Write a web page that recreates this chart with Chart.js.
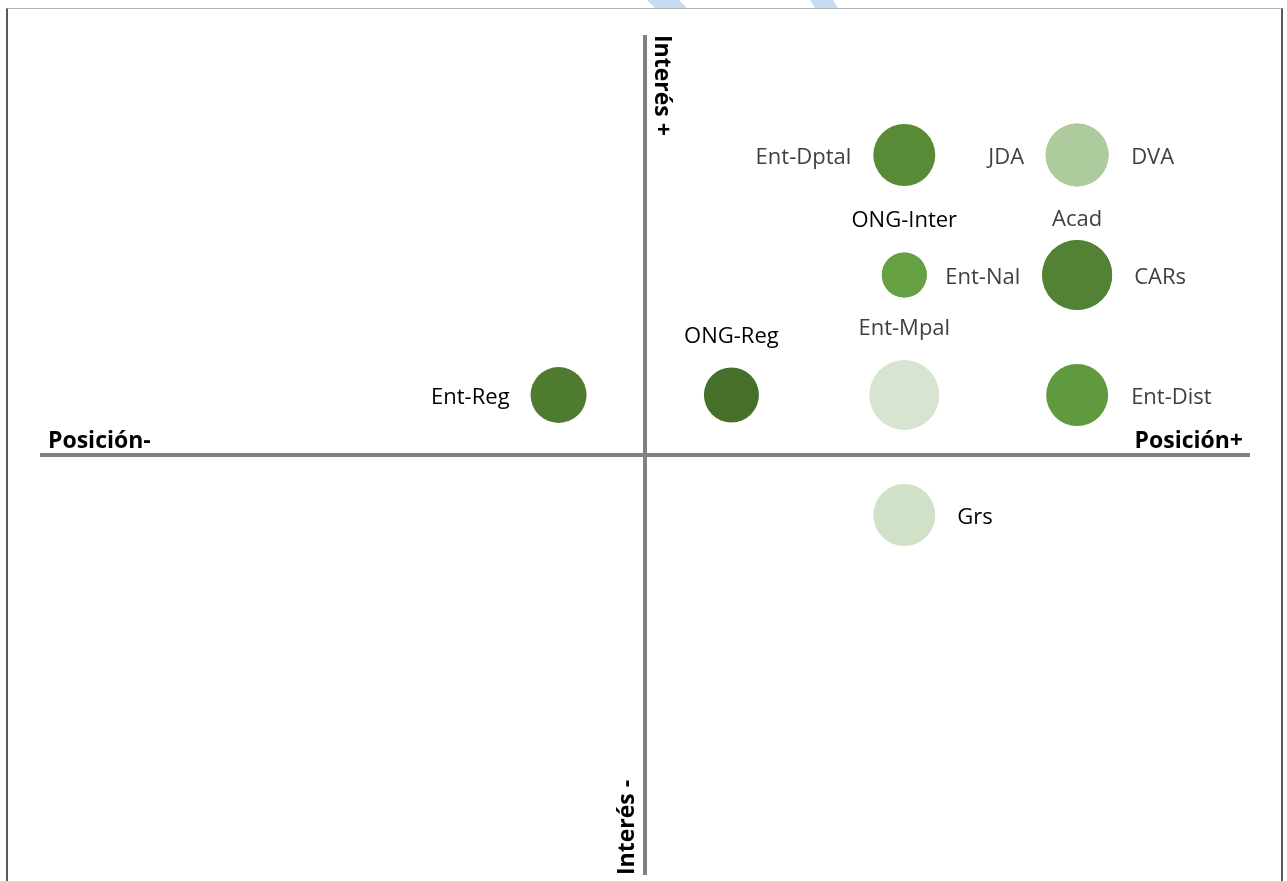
<!DOCTYPE html>
<html>
<head>
<meta charset="utf-8">
<script src="https://cdn.jsdelivr.net/npm/chart.js@4/dist/chart.umd.min.js"></script>
<style>
  html, body { margin: 0; padding: 0; background: #fff; overflow: hidden; width: 1287px; height: 881px; }
  #frame { position: absolute; left: 6px; top: 8px; width: 1273px; height: 900px;
           border-top: 1px solid #b4b4b4; border-left: 2px solid #5a5a5a; border-right: 2px solid #5a5a5a; }
  #deco { position: absolute; left: 0; top: 0; }
  #wrap { position: absolute; left: 0; top: -40px; width: 1287px; height: 961px; }
</style>
</head>
<body>
<svg id="deco" width="1287" height="9">
  <polygon points="647,0 679,0 687,8 655,8" fill="#c6dbef"/>
  <polygon points="810,0 833,0 838,8 815,8" fill="#c6dbef"/>
</svg>
<div id="frame"></div>
<div id="wrap"><canvas id="c" width="1287" height="961"></canvas></div>
<script>
// ---- Data ----
const labels   = ['Ent-Dptal','JDA','DVA','ONG-Inter','Ent-Nal','Acad','CARs','Ent-Mpal','ONG-Reg','Ent-Reg','Ent-Dist','Grs'];
const posicion = [1.5, 2.5, 2.5, 1.5, 1.5, 2.5, 2.5, 1.5, 0.5, -0.5, 2.5, 1.5];
const interes  = [2.5, 2.5, 2.5, 1.5, 1.5, 1.5, 1.5, 0.5, 0.5, 0.5, 0.5, -0.5];
const tamano   = [31, 31.5, 31.5, 22.5, 22.5, 35, 35, 35, 27.5, 28, 31, 31];
const axisMin = -3.5, axisMax = 3.5;
const axisTitles = { xNeg: 'Posición-', xPos: 'Posición+', yPos: 'Interés +', yNeg: 'Interés -' };

// ---- Styling (not data) ----
const bubbleColors = ['#598b37','#aecb9e','#aecb9e','#65a043','#65a043','#538234','#538234','#d7e4d0','#466f2a','#4f7b31','#5f9a3e','#d0e1c8'];
const labelColors  = ['#404040','#404040','#404040','#000000','#404040','#404040','#404040','#404040','#000000','#000000','#404040','#000000'];
// label placement: [side, dx, dy] relative to bubble centre
const labelPlace = [
  ['left', -53, 3], ['left', -53, 3], ['right', 54, 3],
  ['center', 0, -54], ['right', 41, 3], ['center', 0, -55], ['right', 57, 3],
  ['center', 0, -66], ['center', 0, -58], ['left', -49, 3], ['right', 54, 3], ['right', 53, 3]
];
const FONT = "'Open Sans', Lato, sans-serif";

const points = posicion.map((x, i) => ({ x: x, y: interes[i], r: tamano[i] }));

const quadPlugin = {
  id: 'quad',
  beforeDatasetsDraw(chart) {
    const { ctx, chartArea: a, scales: { x, y } } = chart;
    const x0 = x.getPixelForValue(0), y0 = y.getPixelForValue(0);
    ctx.save();
    ctx.strokeStyle = '#808080';
    ctx.lineWidth = 4;
    ctx.beginPath();
    ctx.moveTo(a.left, y0); ctx.lineTo(a.right, y0);
    ctx.moveTo(x0, a.top); ctx.lineTo(x0, a.bottom);
    ctx.stroke();
    // axis titles
    ctx.fillStyle = '#000';
    ctx.font = 'bold 23px ' + FONT;
    ctx.textBaseline = 'alphabetic';
    ctx.textAlign = 'left';
    ctx.fillText(axisTitles.xNeg, a.left + 8, y0 - 7);
    ctx.textAlign = 'right';
    ctx.fillText(axisTitles.xPos, a.right - 7, y0 - 7);
    // Interés + : rotated clockwise, starting at top
    ctx.save();
    ctx.translate(x0 + 10, a.top);
    ctx.rotate(Math.PI / 2);
    ctx.textAlign = 'left';
    ctx.fillText(axisTitles.yPos, 0, 0);
    ctx.restore();
    // Interés - : rotated counter-clockwise, starting at bottom
    ctx.save();
    ctx.translate(x0 - 11, a.bottom);
    ctx.rotate(-Math.PI / 2);
    ctx.textAlign = 'left';
    ctx.fillText(axisTitles.yNeg, 0, 0);
    ctx.restore();
    ctx.restore();
  },
  afterDatasetsDraw(chart) {
    const { ctx } = chart;
    const meta = chart.getDatasetMeta(0);
    ctx.save();
    ctx.font = '22px ' + FONT;
    ctx.textBaseline = 'middle';
    meta.data.forEach((el, i) => {
      const [side, dx, dy] = labelPlace[i];
      ctx.fillStyle = labelColors[i];
      ctx.textAlign = side === 'left' ? 'right' : (side === 'right' ? 'left' : 'center');
      ctx.fillText(labels[i], el.x + dx, el.y + dy);
    });
    ctx.restore();
  }
};

new Chart(document.getElementById('c'), {
  type: 'bubble',
  data: {
    labels: labels,
    datasets: [{
      data: points,
      backgroundColor: bubbleColors,
      borderWidth: 0,
      hoverBorderWidth: 0
    }]
  },
  options: {
    responsive: false,
    animation: false,
    events: [],
    layout: { padding: { left: 40, right: 37, top: 75, bottom: 46 } },
    plugins: { legend: { display: false }, tooltip: { enabled: false } },
    scales: {
      x: { type: 'linear', min: axisMin, max: axisMax, display: false },
      y: { type: 'linear', min: axisMin, max: axisMax, display: false }
    }
  },
  plugins: [quadPlugin]
});
</script>
</body>
</html>
